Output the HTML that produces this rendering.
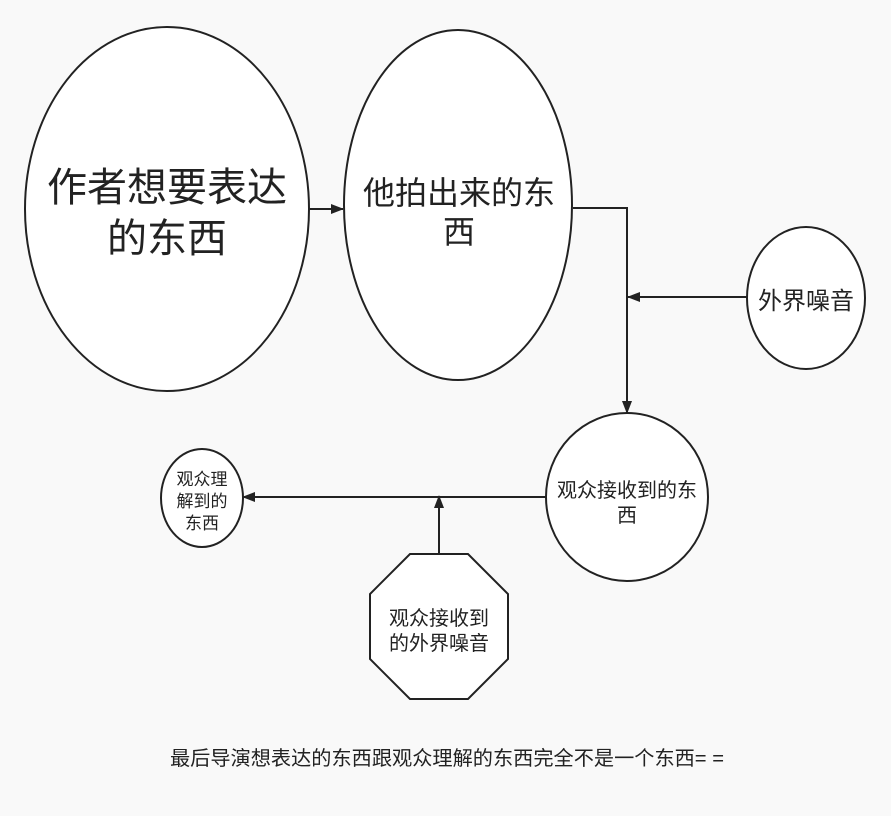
<!DOCTYPE html>
<html><head><meta charset="utf-8"><style>
html,body{margin:0;padding:0;background:#f9f9f9;}
svg{display:block;}
text{font-family:"Liberation Sans","Noto Sans CJK SC",sans-serif;fill:#222;text-anchor:middle;}
</style></head><body>
<svg width="891" height="816" viewBox="0 0 891 816" xmlns="http://www.w3.org/2000/svg">
<defs><marker id="a" markerWidth="13" markerHeight="10" refX="12" refY="5" orient="auto" markerUnits="userSpaceOnUse"><path d="M0,0 L13,5 L0,10 Z" fill="#222"/></marker></defs>
<g fill="#fff" stroke="#222" stroke-width="2">
<ellipse cx="167" cy="209" rx="142" ry="182"/>
<ellipse cx="458" cy="205" rx="114" ry="175"/>
<ellipse cx="806" cy="298" rx="59" ry="71"/>
<ellipse cx="627" cy="497" rx="81" ry="84"/>
<ellipse cx="202" cy="498" rx="41" ry="49"/>
<polygon points="410,554 468,554 508,594 508,659 468,699 410,699 370,659 370,594"/>
</g>
<g fill="none" stroke="#222" stroke-width="2" marker-end="url(#a)">
<path d="M309,209 L343,209"/>
<path d="M573,208 L627,208 L627,413"/>
<path d="M747,297 L628,297"/>
<path d="M546,497 L243,497"/>
<path d="M439,554 L439,496"/>
</g>
<text x="167" y="201" font-size="40">作者想要表达</text>
<text x="167" y="252" font-size="40">的东西</text>
<text x="459" y="204" font-size="32">他拍出来的东</text>
<text x="459" y="243" font-size="32">西</text>
<text x="806" y="309" font-size="24">外界噪音</text>
<text x="627" y="497" font-size="20">观众接收到的东</text>
<text x="627" y="522" font-size="20">西</text>
<text x="202" y="485" font-size="17">观众理</text>
<text x="202" y="507" font-size="17">解到的</text>
<text x="202" y="529" font-size="17">东西</text>
<text x="439" y="625" font-size="20">观众接收到</text>
<text x="439" y="650" font-size="20">的外界噪音</text>
<text x="447" y="765" font-size="20" textLength="554" lengthAdjust="spacingAndGlyphs">最后导演想表达的东西跟观众理解的东西完全不是一个东西= =</text>
</svg>
</body></html>
